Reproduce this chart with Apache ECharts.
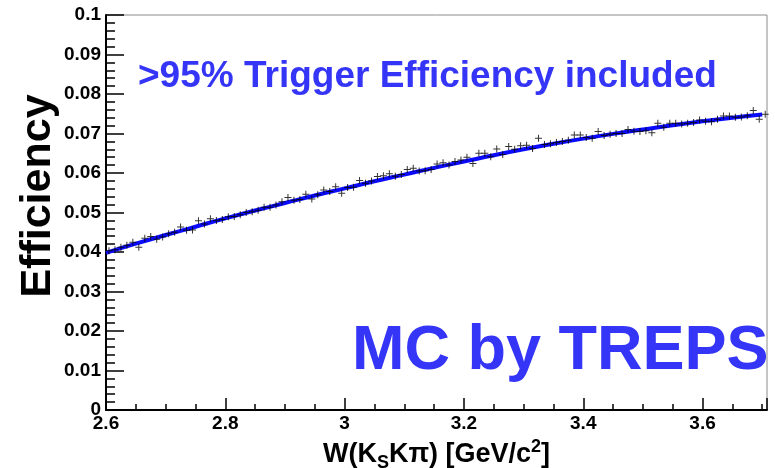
<!DOCTYPE html>
<html><head><meta charset="utf-8">
<script src="https://cdn.jsdelivr.net/npm/echarts@6/dist/echarts.min.js"></script>
<style>html,body{margin:0;padding:0;background:#fff}#c{width:775px;height:468px}</style>
</head><body><div id="c"></div>
<script>
// Data points (bin centres, 0.01 GeV bins) and efficiency values
const binStart = 2.605, binWidth = 0.01;
const effValues = [
0.0403,0.0406,0.0412,0.0417,0.0425,0.0412,0.0435,0.0439,0.0432,0.0438,
0.0446,0.0450,0.0463,0.0455,0.0456,0.0479,0.0471,0.0484,0.0480,0.0482,
0.0489,0.0490,0.0494,0.0500,0.0502,0.0506,0.0513,0.0513,0.0519,0.0527,
0.0538,0.0531,0.0533,0.0546,0.0534,0.0545,0.0557,0.0553,0.0565,0.0549,
0.0563,0.0564,0.0581,0.0574,0.0580,0.0591,0.0593,0.0598,0.0592,0.0596,
0.0609,0.0612,0.0605,0.0606,0.0609,0.0623,0.0626,0.0620,0.0629,0.0633,
0.0640,0.0624,0.0650,0.0650,0.0641,0.0661,0.0647,0.0667,0.0660,0.0669,
0.0670,0.0662,0.0688,0.0672,0.0674,0.0677,0.0680,0.0683,0.0696,0.0696,
0.0690,0.0688,0.0705,0.0695,0.0698,0.0700,0.0700,0.0710,0.0706,0.0705,
0.0707,0.0702,0.0726,0.0716,0.0726,0.0726,0.0724,0.0726,0.0728,0.0734,
0.0731,0.0730,0.0736,0.0744,0.0744,0.0741,0.0742,0.0745,0.0758,0.0736,
0.0749];
// Fit curve
const fitX = [2.60,2.65,2.70,2.75,2.80,2.85,2.90,2.95,3.00,3.05,3.10,3.15,3.20,3.25,3.30,3.35,3.40,3.45,3.50,3.55,3.60,3.65,3.70];
const fitY = [0.0398,0.0421,0.0443,0.0464,0.0485,0.0505,0.0524,0.0543,0.0561,0.0579,0.0596,0.0613,0.0629,0.0645,0.0660,0.0674,0.0687,0.0699,0.0710,0.0721,0.0731,0.0740,0.0748];
const xTicks = [2.6,2.8,3.0,3.2,3.4,3.6];
const yTicks = [0,0.01,0.02,0.03,0.04,0.05,0.06,0.07,0.08,0.09,0.1];

const pts = effValues.map((v,i)=>[+(binStart+i*binWidth).toFixed(3), v]);
const fit = fitX.map((x,i)=>[x, fitY[i]]);
const FONT = '"Liberation Sans", Arial, Helvetica, sans-serif';
const BLUE = '#3535f8';

const chart = echarts.init(document.getElementById('c'), null, {renderer:'canvas'});
chart.setOption({
  animation:false,
  backgroundColor:'#fff',
  grid:{left:106,right:8,top:15,bottom:58,outerBoundsMode:'none',containLabel:false,show:true,borderColor:'#8c8c8c',borderWidth:1,backgroundColor:'transparent'},
  xAxis:{type:'value',min:2.6,max:3.708,interval:0.2,
    axisLine:{show:true,onZero:false,lineStyle:{color:'#000',width:2}},
    axisTick:{show:true,inside:true,length:12,lineStyle:{color:'#000',width:1.5}},
    minorTick:{show:true,splitNumber:4,length:6,lineStyle:{color:'#000',width:1.5}},
    splitLine:{show:false},
    axisLabel:{showMaxLabel:false,margin:4,color:'#000',fontFamily:FONT,fontWeight:'bold',fontSize:19,
      formatter:v=>{const r=Math.round(v*10)/10; return xTicks.some(t=>Math.abs(t-v)<1e-6)? String(r):'';}},
    name:'{a|W(K}{s|S}{a|Kπ) [GeV/c}{p|2}{a|]}',nameLocation:'middle',nameGap:14,
    nameTextStyle:{fontFamily:FONT,fontWeight:'bold',color:'#000',rich:{
      a:{fontFamily:FONT,fontWeight:'bold',fontSize:27,color:'#000',lineHeight:34,verticalAlign:'middle'},
      s:{fontFamily:FONT,fontWeight:'bold',fontSize:18,color:'#000',lineHeight:34,verticalAlign:'bottom'},
      p:{fontFamily:FONT,fontWeight:'bold',fontSize:18,color:'#000',lineHeight:34,verticalAlign:'top'}}}
  },
  yAxis:{type:'value',min:0,max:0.1,interval:0.01,
    axisLine:{show:true,onZero:false,lineStyle:{color:'#000',width:2}},
    axisTick:{show:true,inside:true,length:18,lineStyle:{color:'#000',width:1.5}},
    minorTick:{show:true,splitNumber:5,length:9,lineStyle:{color:'#000',width:1.5}},
    splitLine:{show:false},
    axisLabel:{margin:5,color:'#000',fontFamily:FONT,fontWeight:'bold',fontSize:19,
      formatter:v=>String(+v.toFixed(2))}
  },
  graphic:[
    {type:'text',x:38,y:196,rotation:Math.PI/2,style:{text:'Efficiency',font:'bold 43px '+FONT,fill:'#000',align:'center',verticalAlign:'middle'}},
    {type:'text',x:138,y:77,style:{text:'>95% Trigger Efficiency included',font:'bold 37px '+FONT,fill:BLUE,align:'left',verticalAlign:'middle'}},
    {type:'text',x:352,y:352,style:{text:'MC by TREPS',font:'bold 63px '+FONT,fill:BLUE,align:'left',verticalAlign:'middle'}}
  ],
  series:[
    {type:'line',data:fit,smooth:true,showSymbol:false,symbol:'none',z:2,
     lineStyle:{color:'#0a0aff',width:4},silent:true},
    {type:'scatter',data:pts,z:5,symbol:'path://M3,0h1v7h-1zM0,3h7v1h-7z',symbolSize:7,
     itemStyle:{color:'#000'},silent:true}
  ]
});
</script></body></html>
